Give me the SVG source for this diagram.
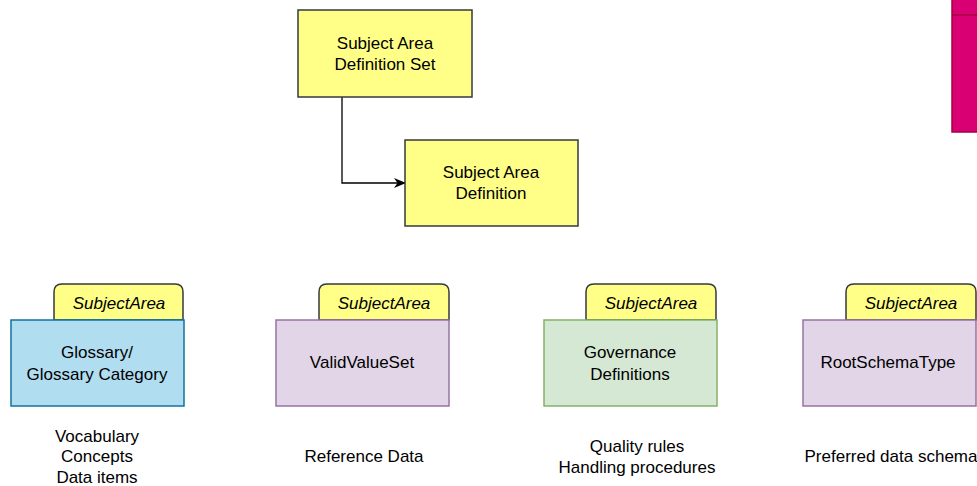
<svg xmlns="http://www.w3.org/2000/svg" width="977" height="486" viewBox="0 0 977 486">
<defs>
<style>
text{font-family:"Liberation Sans",Arial,sans-serif;font-size:17px;fill:#000;text-anchor:middle}
.it{font-style:italic}
.y{fill:#ffff88;stroke:#36393d;stroke-width:1.5}
.tab{fill:#ffff88;stroke:#36393d;stroke-width:1.5}
.blue{fill:#b1ddf0;stroke:#10739e;stroke-width:1.5}
.purple{fill:#e1d5e7;stroke:#9673a6;stroke-width:1.5}
.green{fill:#d5e8d4;stroke:#82b366;stroke-width:1.5}
.conn{fill:none;stroke:#000;stroke-width:1.3}
</style>
<marker id="arr" viewBox="0 0 12 12" refX="11" refY="6" markerWidth="12" markerHeight="12" markerUnits="userSpaceOnUse" orient="auto">
<path d="M0,1 L12,6 L0,11 L3.5,6 Z" fill="#000"/>
</marker>
</defs>
<g id="connectors">
<path class="conn" d="M342,97 V183 H405" marker-end="url(#arr)"/>
</g>
<g id="pink">
<rect x="952" y="-2" width="30" height="134" fill="#d80073" stroke="#a50040" stroke-width="1.5"/>
<line x1="952" y1="15" x2="980" y2="15" stroke="#a50040" stroke-width="1.5"/>
</g>
<g id="sads">
<rect class="y" x="298" y="10" width="174" height="87"/>
<text x="385" y="49">Subject Area</text>
<text x="385" y="70">Definition Set</text>
</g>
<g id="sad">
<rect class="y" x="405" y="140" width="173" height="86"/>
<text x="491" y="178">Subject Area</text>
<text x="491" y="199">Definition</text>
</g>
<g id="glossary">
<path class="tab" d="M54,320 V292 Q54,284 62,284 H175 Q183,284 183,292 V320 Z"/>
<text class="it" x="119" y="309">SubjectArea</text>
<rect class="blue" x="11" y="320" width="173" height="86"/>
<text x="97" y="358">Glossary/</text>
<text x="97" y="380">Glossary Category</text>
<text x="97" y="442">Vocabulary</text>
<text x="97" y="462">Concepts</text>
<text x="97" y="483">Data items</text>
</g>
<g id="validvalueset">
<path class="tab" d="M319,320 V292 Q319,284 327,284 H441 Q449,284 449,292 V320 Z"/>
<text class="it" x="384" y="309">SubjectArea</text>
<rect class="purple" x="276" y="320" width="173" height="86"/>
<text x="362" y="368">ValidValueSet</text>
<text x="364" y="462">Reference Data</text>
</g>
<g id="governance">
<path class="tab" d="M586,320 V292 Q586,284 594,284 H708 Q716,284 716,292 V320 Z"/>
<text class="it" x="651" y="309">SubjectArea</text>
<rect class="green" x="544" y="320" width="173" height="86"/>
<text x="630" y="358">Governance</text>
<text x="630" y="380">Definitions</text>
<text x="637" y="452">Quality rules</text>
<text x="637" y="473">Handling procedures</text>
</g>
<g id="rootschema">
<path class="tab" d="M846,320 V292 Q846,284 854,284 H968 Q976,284 976,292 V320 Z"/>
<text class="it" x="911" y="309">SubjectArea</text>
<rect class="purple" x="803" y="320" width="173" height="86"/>
<text x="888" y="368">RootSchemaType</text>
<text x="891" y="462">Preferred data schema</text>
</g>
</svg>
